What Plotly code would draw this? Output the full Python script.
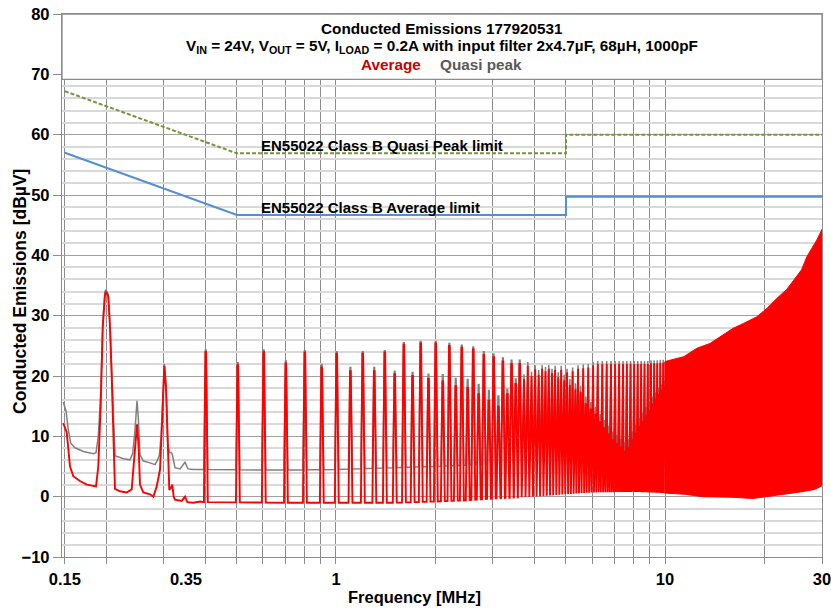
import numpy as np
import plotly.graph_objects as go

# ---------------- data (MHz, dBµV) ----------------
# Low-frequency part of the Average trace, point by point
low_avg_freq = [0.1483, 0.1519, 0.1555, 0.1591, 0.1667, 0.1748, 0.1865, 0.1895, 0.1927, 0.1955,
                0.1986, 0.2000, 0.2032, 0.2057, 0.2081, 0.2105, 0.2130, 0.2206, 0.2312, 0.2394,
                0.2421, 0.2468, 0.2485, 0.2514, 0.2537, 0.2597, 0.2722, 0.2786, 0.2852, 0.2919,
                0.2960, 0.3008, 0.3044, 0.3080, 0.3115, 0.3152, 0.3181, 0.3212, 0.3241, 0.3397,
                0.3477, 0.3534, 0.3685, 0.3862]
low_avg = [12.2, 10.7, 5.0, 3.4, 2.6, 2.0, 1.7, 5.0, 15.0, 28.0,
           33.5, 34.0, 33.2, 28.0, 20.0, 9.0, 1.3, 0.9, 0.7, 1.2,
           4.0, 10.0, 12.0, 8.0, 2.0, 0.7, 0.4, 0.0, 1.7, 4.5,
           12.0, 21.7, 18.0, 8.0, 1.1, 1.5, 2.0, 0.0, -0.5, -0.7,
           0.0, -0.9, -1.0, -0.8]

# Low-frequency part of the Quasi-peak trace
low_qp_freq = [0.1483, 0.1512, 0.1536, 0.1562, 0.1610, 0.1706, 0.1830, 0.1865, 0.1895, 0.1927,
               0.1955, 0.1986, 0.2000, 0.2032, 0.2057, 0.2081, 0.2105, 0.2130, 0.2258, 0.2366,
               0.2411, 0.2450, 0.2485, 0.2508, 0.2537, 0.2597, 0.2722, 0.2819, 0.2865, 0.2905,
               0.2940, 0.2966, 0.3008, 0.3044, 0.3080, 0.3115, 0.3152, 0.3181, 0.3241, 0.3358,
               0.3477, 0.3550, 0.3685, 0.3862]
low_qp = [15.7, 14.2, 11.1, 8.9, 8.1, 7.5, 7.1, 7.3, 10.0, 17.0,
          29.0, 34.0, 34.3, 33.5, 28.5, 21.0, 11.0, 6.8, 6.3, 6.1,
          7.2, 11.0, 15.9, 13.0, 7.0, 5.9, 5.6, 5.3, 6.0, 6.8,
          10.0, 15.0, 22.0, 18.5, 9.0, 7.3, 7.3, 7.0, 4.8, 4.6,
          5.7, 4.6, 4.5, 4.5]

# Switching harmonics 0.4 - 10 MHz
harm_freq = [0.402, 0.503, 0.603, 0.704, 0.804, 0.905, 1.005, 1.106, 1.206, 1.307,
             1.407, 1.508, 1.608, 1.709, 1.809, 1.910, 2.010, 2.111, 2.211, 2.312,
             2.412, 2.513, 2.613, 2.714, 2.814, 2.915, 3.015, 3.116, 3.216, 3.317,
             3.417, 3.518, 3.618, 3.719, 3.819, 3.920, 4.020, 4.121, 4.221, 4.322,
             4.422, 4.523, 4.623, 4.724, 4.824, 4.925, 5.025, 5.126, 5.226, 5.327,
             5.427, 5.528, 5.628, 5.729, 5.829, 5.930, 6.030, 6.131, 6.231, 6.332,
             6.432, 6.533, 6.633, 6.734, 6.834, 6.935, 7.035, 7.136, 7.236, 7.337,
             7.437, 7.538, 7.638, 7.739, 7.839, 7.940, 8.040, 8.141, 8.241, 8.342,
             8.442, 8.543, 8.643, 8.744, 8.844, 8.945, 9.045, 9.146, 9.246, 9.347,
             9.447, 9.548, 9.648, 9.749, 9.849, 9.950]
harm_avg = [24.0, 21.8, 24.0, 22.1, 23.9, 21.4, 23.7, 20.8, 23.7, 20.8,
            23.9, 20.3, 25.2, 20.0, 25.4, 19.5, 25.4, 19.1, 25.0, 18.3,
            24.7, 18.0, 24.4, 17.0, 23.5, 15.9, 23.1, 14.9, 22.4, 17.0,
            22.0, 18.7, 22.0, 19.5, 21.7, 20.0, 21.1, 20.2, 21.2, 20.8,
            21.2, 20.5, 21.0, 19.8, 21.0, 19.3, 20.6, 18.5, 20.8, 17.8,
            21.2, 17.4, 21.3, 15.5, 21.4, 14.6, 21.8, 13.8, 22.0, 12.5,
            22.0, 11.5, 22.0, 10.5, 22.0, 9.5, 22.0, 8.9, 22.0, 8.3,
            22.0, 7.6, 22.0, 8.2, 22.0, 9.5, 22.0, 10.6, 22.0, 11.7,
            22.0, 12.6, 22.0, 13.5, 22.0, 14.4, 22.1, 15.5, 22.1, 16.3,
            22.1, 17.0, 22.2, 17.7, 22.2, 18.3]
harm_qp = [24.3, 22.2, 24.3, 22.5, 24.2, 21.9, 24.0, 21.4, 24.0, 21.4,
           24.2, 20.8, 25.5, 20.6, 25.7, 20.3, 25.7, 20.2, 25.4, 19.6,
           25.1, 19.4, 24.8, 18.6, 24.0, 17.6, 23.6, 16.7, 23.0, 17.8,
           22.6, 19.5, 22.6, 20.3, 22.3, 20.7, 21.8, 21.0, 21.8, 21.5,
           21.8, 21.2, 21.7, 20.6, 21.7, 20.2, 21.2, 19.5, 21.4, 18.8,
           21.8, 18.4, 21.9, 16.6, 22.0, 15.7, 22.3, 14.9, 22.5, 13.7,
           22.5, 12.7, 22.5, 11.8, 22.5, 10.8, 22.5, 10.2, 22.5, 9.6,
           22.5, 9.0, 22.5, 9.5, 22.5, 10.8, 22.5, 11.9, 22.5, 13.0,
           22.5, 13.9, 22.5, 14.8, 22.5, 15.6, 22.6, 16.6, 22.6, 17.3,
           22.6, 18.0, 22.7, 18.6, 22.7, 19.2]

# Noise floor between harmonics
floor_avg_freq = [0.38, 0.7, 1.0, 1.5, 2.0, 2.5, 3.0, 4.0, 5.0, 6.0, 8.0, 10.0]
floor_avg = [-0.9, -1.0, -1.0, -1.0, -0.8, -0.6, -0.3, 0.0, 0.4, 0.7, 0.8, 0.6]
floor_qp_freq = [0.38, 0.7, 1.0, 1.5, 2.0, 3.0, 4.0, 5.0, 7.0, 10.0]
floor_qp = [4.5, 4.4, 4.5, 4.8, 5.0, 5.4, 5.8, 6.1, 6.3, 6.5]

# Dense region 10 - 30 MHz (harmonics merge into a solid band)
dense_top_freq = [9.95, 10.0, 11.4, 12.5, 13.7, 15.0, 16.1, 17.3, 19.0, 20.4,
                  21.9, 23.4, 25.1, 26.0, 27.0, 28.2, 28.9, 30.0]
dense_top_avg = [22.2, 22.4, 23.2, 24.6, 25.4, 26.8, 27.9, 28.7, 29.8, 31.2,
                 32.9, 34.3, 36.5, 37.6, 39.8, 41.4, 42.5, 44.3]
dense_floor_freq = [9.95, 11.5, 13.0, 16.0, 18.5, 20.0, 23.0, 26.0, 28.5, 30.0]
dense_floor_avg = [0.6, 0.4, 0.0, -0.1, -0.3, 0.0, 0.4, 0.8, 1.2, 1.8]

# EN55022 class B limits as drawn
limit_freq = [0.15, 0.5, 5.0, 5.0, 30.0]
qp_limit = [67.2, 56.9, 56.9, 60.0, 60.0]
avg_limit = [57.0, 46.7, 46.7, 49.7, 49.7]

x_tick_vals = [0.15, 0.35, 1, 10, 30]
x_tick_text = ["0.15", "0.35", "1", "10", "30"]
x_grid_vals = [0.15, 0.2, 0.3, 0.4, 0.5, 0.6, 0.7, 0.8, 0.9, 1, 2, 3, 4, 5, 6, 7, 8, 9, 10, 20, 30]

# ---------------- helpers ----------------
FONT = "Liberation Sans, Arial, sans-serif"
RED = "#ff0000"
GRAY = "#808080"


def comb_path(freqs, peaks, ffreq, flevel):
    """Narrow spectral lines rising from the noise floor."""
    lf = np.log10(np.asarray(freqs, float))
    lff = np.log10(np.asarray(ffreq, float))
    xs, ys = [], []
    n = len(lf)
    for i in range(n):
        dl = (lf[i] - lf[i - 1]) / 2 if i > 0 else 0.01
        dr = (lf[i + 1] - lf[i]) / 2 if i < n - 1 else 0.01
        hl = min(0.0056, dl)
        hr = min(0.0062, dr)
        ht = 0.0011
        for lx, y in ((lf[i] - hl, None), (lf[i] - ht, peaks[i]), (lf[i] + ht, peaks[i]), (lf[i] + hr, None)):
            xs.append(10 ** lx)
            ys.append(float(np.interp(lx, lff, flevel)) if y is None else y)
    return xs, ys


fig = go.Figure()

# Quasi-peak (gray) below average (red)
qx, qy = comb_path(harm_freq, harm_qp, floor_qp_freq, floor_qp)
fig.add_trace(go.Scatter(x=low_qp_freq + qx, y=low_qp + qy, mode="lines",
                         line=dict(color=GRAY, width=1.5), hoverinfo="skip"))

ax, ay = comb_path(harm_freq, harm_avg, floor_avg_freq, floor_avg)
fig.add_trace(go.Scatter(x=low_avg_freq + ax, y=low_avg + ay, mode="lines",
                         line=dict(color=RED, width=1.9), hoverinfo="skip"))
fig.add_trace(go.Scatter(x=dense_top_freq + dense_floor_freq[::-1],
                         y=dense_top_avg + dense_floor_avg[::-1],
                         mode="lines", fill="toself", fillcolor=RED,
                         line=dict(color=RED, width=1), hoverinfo="skip"))

# limit lines
fig.add_trace(go.Scatter(x=limit_freq, y=qp_limit, mode="lines",
                         line=dict(color="#77933c", width=2, dash="4px,2px"), hoverinfo="skip"))
fig.add_trace(go.Scatter(x=limit_freq, y=avg_limit, mode="lines",
                         line=dict(color="#558ed5", width=2), hoverinfo="skip"))

# ---------------- layout ----------------
fig.update_layout(
    width=831, height=609,
    margin=dict(l=62, r=9, t=14, b=52, autoexpand=False),
    paper_bgcolor="white", plot_bgcolor="white",
    showlegend=False,
    font=dict(family=FONT, color="black"),
)
fig.update_xaxes(
    type="log", range=[np.log10(0.147), np.log10(30)], automargin=False,
    tickmode="array", tickvals=x_tick_vals, ticktext=x_tick_text,
    ticks="outside", ticklen=7, tickcolor="rgba(0,0,0,0)",
    ticklabeloverflow="allow",
    tickfont=dict(family=FONT, size=16.5, color="black", weight="bold"),
    showgrid=False, zeroline=False,
    showline=True, linecolor="#8c8c8c", linewidth=1.3, mirror=True,
    minor=dict(tickmode="array", tickvals=x_grid_vals, ticks="outside", ticklen=6,
               tickcolor="#8c8c8c", tickwidth=1.3,
               showgrid=True, gridcolor="#8c8c8c", gridwidth=1.3),
)
fig.update_yaxes(
    range=[-10, 80], tickmode="linear", tick0=0, dtick=10, automargin=False,
    ticks="outside", ticklen=8, tickcolor="#8c8c8c", tickwidth=1.3,
    ticklabeloverflow="allow",
    tickfont=dict(family=FONT, size=16.5, color="black", weight="bold"),
    showgrid=True, gridcolor="#a0a0a0", gridwidth=1.3, zeroline=False,
    showline=True, linecolor="#8c8c8c", linewidth=1.3, mirror=True,
    minor=dict(dtick=2, showgrid=True, gridcolor="#d9d9d9", gridwidth=2, ticks=""),
)

# title box
fig.add_shape(type="rect", xref="paper", yref="y", x0=0, x1=1, y0=69.15, y1=80,
              fillcolor="white", line=dict(color="#8c8c8c", width=1.3), layer="above")

tfont = dict(family=FONT, size=15.3, color="black", weight="bold")
fig.add_annotation(xref="paper", yref="y", x=0.5, y=77.6, text="Conducted Emissions 177920531",
                   showarrow=False, font=tfont, yanchor="middle")
fig.add_annotation(xref="paper", yref="y", x=0.5, y=74.6,
                   text="V<sub>IN</sub> = 24V, V<sub>OUT</sub> = 5V, I<sub>LOAD</sub> = 0.2A with input filter 2x4.7µF, 68µH, 1000pF",
                   showarrow=False, font=tfont, yanchor="middle")
fig.add_annotation(xref="paper", yref="y", x=0.4746, y=71.7, text="Average", xanchor="right",
                   showarrow=False, font=dict(family=FONT, size=15.3, color="#cc0000", weight="bold"),
                   yanchor="middle")
fig.add_annotation(xref="paper", yref="y", x=0.4944, y=71.7, text="Quasi peak", xanchor="left",
                   showarrow=False, font=dict(family=FONT, size=15.3, color="#595959", weight="bold"),
                   yanchor="middle")

# limit labels
lfont = dict(family=FONT, size=15, color="black", weight="bold")
fig.add_annotation(xref="paper", yref="y", x=0.2587, y=58.2, text="EN55022 Class B Quasi Peak limit",
                   xanchor="left", yanchor="middle", showarrow=False, font=lfont)
fig.add_annotation(xref="paper", yref="y", x=0.2587, y=47.9, text="EN55022 Class B Average limit",
                   xanchor="left", yanchor="middle", showarrow=False, font=lfont)

# axis titles
fig.add_annotation(xref="paper", yref="paper", x=0.4638, y=(557 - 597) / 543, text="Frequency [MHz]",
                   showarrow=False, font=dict(family=FONT, size=16.5, color="black", weight="bold"),
                   xanchor="center", yanchor="middle")
fig.add_annotation(xref="paper", yref="paper", x=(20 - 62) / 760, y=(557 - 292) / 543,
                   text="Conducted Emissions [dBµV]", textangle=-90,
                   showarrow=False, font=dict(family=FONT, size=17.5, color="black", weight="bold"),
                   xanchor="center", yanchor="middle")

fig.write_html("out.html", config={"displayModeBar": False},
               post_script="document.body.style.margin='0';")
